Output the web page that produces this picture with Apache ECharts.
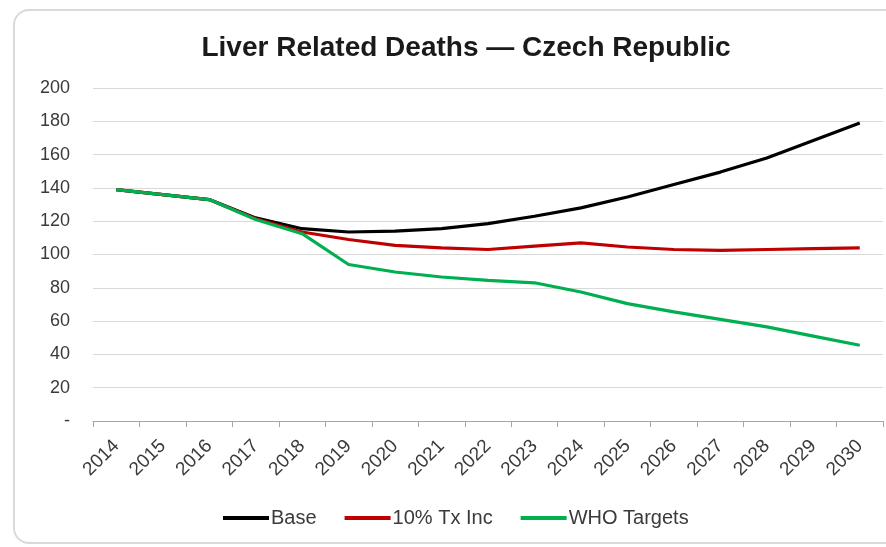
<!DOCTYPE html>
<html>
<head>
<meta charset="utf-8">
<script src="https://cdn.jsdelivr.net/npm/echarts@6/dist/echarts.min.js"></script>
<style>
  html, body { margin: 0; padding: 0; background: #fff; overflow: hidden; }
  #wrap { position: relative; width: 886px; height: 547px; overflow: hidden; }
  #frame {
    position: absolute; left: 13px; top: 9px; width: 920px; height: 535px;
    border: 2px solid #d9d9d9; border-radius: 16px; box-sizing: border-box;
  }
  #chart { position: absolute; left: 0; top: 0; width: 886px; height: 547px; }
</style>
</head>
<body>
<div id="wrap">
  <div id="frame"></div>
  <div id="chart"></div>
</div>
<script>
// years on the x axis
const years = ['2014', '2015', '2016', '2017', '2018', '2019', '2020', '2021', '2022',
  '2023', '2024', '2025', '2026', '2027', '2028', '2029', '2030'];
// Base scenario
const baseData = [139, 136, 133, 122, 115.5, 113.5, 114, 115.5, 118.5, 123, 128, 134.5, 142, 149.5, 158, 168.5, 179];
// 10% treatment increase
const txIncData = [139, 136, 133, 121.5, 113.5, 109, 105.5, 104, 103, 105, 107, 104.5, 103, 102.5, 103, 103.5, 104];
// WHO targets
const whoData = [139, 136, 133, 121, 112.5, 94, 89.5, 86.5, 84.5, 83, 77.5, 70.5, 65.5, 61, 56.5, 51, 45.5];

const chart = echarts.init(document.getElementById('chart'));
const fontFam = '"Liberation Sans", Arial, sans-serif';
const txtColor = '#3a3a3a';

function lineSeries (name, data, color) {
  return {
    name: name,
    type: 'line',
    data: data,
    symbol: 'none',
    smooth: false,
    lineStyle: { color: color, width: 3.2 },
    itemStyle: { color: color }
  };
}

chart.setOption({
  animation: false,
  title: {
    text: 'Liver Related Deaths \u2014 Czech Republic',
    left: 461,
    textAlign: 'center',
    top: 29,
    textStyle: { fontFamily: fontFam, fontSize: 28, fontWeight: 'bold', color: '#1a1a1a' }
  },
  grid: { left: 93, right: 3, top: 88, bottom: 126 },
  legend: {
    bottom: 14,
    left: 218,
    itemWidth: 46,
    itemHeight: 4,
    itemGap: 28,
    icon: 'rect',
    textStyle: { fontFamily: fontFam, fontSize: 20, color: txtColor, padding: [0, 0, 0, -3] },
    data: ['Base', '10% Tx Inc', 'WHO Targets']
  },
  xAxis: {
    type: 'category',
    data: years,
    boundaryGap: true,
    axisLine: { lineStyle: { color: '#a6a6a6', width: 1 } },
    axisTick: { show: true, length: 6, lineStyle: { color: '#a6a6a6' } },
    axisLabel: { rotate: 45, margin: 22, fontFamily: fontFam, fontSize: 19, color: txtColor }
  },
  yAxis: {
    type: 'value',
    min: 0,
    max: 200,
    interval: 20,
    axisLine: { show: false },
    axisTick: { show: false },
    splitLine: { lineStyle: { color: '#d9d9d9', width: 1 } },
    axisLabel: {
      margin: 23,
      fontFamily: fontFam,
      fontSize: 18,
      color: txtColor,
      formatter: v => (v === 0 ? '-' : v)
    }
  },
  series: [
    lineSeries('Base', baseData, '#000000'),
    lineSeries('10% Tx Inc', txIncData, '#c00000'),
    lineSeries('WHO Targets', whoData, '#00b050')
  ]
});
</script>
</body>
</html>
